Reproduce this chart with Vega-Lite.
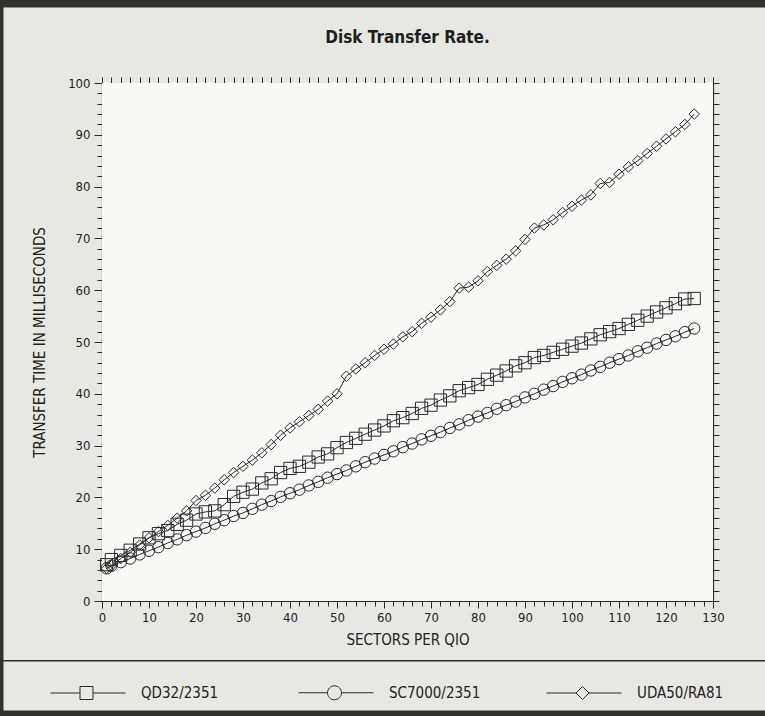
{
  "$schema": "https://vega.github.io/schema/vega-lite/v6.json",
  "autosize": "none",
  "width": 611,
  "height": 518,
  "padding": {"left": 102, "top": 83, "right": 52, "bottom": 115},
  "background": "#e8e8e3",
  "title": {"text": "Disk Transfer Rate.", "font": "DejaVu Sans Condensed, DejaVu Sans, sans-serif", "fontSize": 17, "fontWeight": "bold", "color": "#1e1e1e", "anchor": "middle", "offset": 0, "dy": 44},
  "datasets": {
    "t": [
      {"s":"QD32/2351","x":1,"y":7.0},{"s":"QD32/2351","x":2,"y":8.0},{"s":"QD32/2351","x":4,"y":8.8},{"s":"QD32/2351","x":6,"y":9.8},{"s":"QD32/2351","x":8,"y":11.0},{"s":"QD32/2351","x":10,"y":12.2},{"s":"QD32/2351","x":12,"y":13.0},{"s":"QD32/2351","x":14,"y":13.6},{"s":"QD32/2351","x":16,"y":14.8},{"s":"QD32/2351","x":18,"y":15.6},{"s":"QD32/2351","x":20,"y":16.8},{"s":"QD32/2351","x":22,"y":17.2},{"s":"QD32/2351","x":24,"y":17.4},{"s":"QD32/2351","x":26,"y":18.6},{"s":"QD32/2351","x":28,"y":20.2},{"s":"QD32/2351","x":30,"y":21.0},{"s":"QD32/2351","x":32,"y":21.6},{"s":"QD32/2351","x":34,"y":22.8},{"s":"QD32/2351","x":36,"y":23.6},{"s":"QD32/2351","x":38,"y":24.8},{"s":"QD32/2351","x":40,"y":25.6},{"s":"QD32/2351","x":42,"y":26.0},{"s":"QD32/2351","x":44,"y":26.8},{"s":"QD32/2351","x":46,"y":27.8},{"s":"QD32/2351","x":48,"y":28.4},{"s":"QD32/2351","x":50,"y":29.6},{"s":"QD32/2351","x":52,"y":30.6},{"s":"QD32/2351","x":54,"y":31.4},{"s":"QD32/2351","x":56,"y":32.2},{"s":"QD32/2351","x":58,"y":33.0},{"s":"QD32/2351","x":60,"y":33.8},{"s":"QD32/2351","x":62,"y":34.8},{"s":"QD32/2351","x":64,"y":35.4},{"s":"QD32/2351","x":66,"y":36.2},{"s":"QD32/2351","x":68,"y":37.2},{"s":"QD32/2351","x":70,"y":37.8},{"s":"QD32/2351","x":72,"y":38.8},{"s":"QD32/2351","x":74,"y":39.6},{"s":"QD32/2351","x":76,"y":40.6},{"s":"QD32/2351","x":78,"y":41.2},{"s":"QD32/2351","x":80,"y":41.8},{"s":"QD32/2351","x":82,"y":42.8},{"s":"QD32/2351","x":84,"y":43.6},{"s":"QD32/2351","x":86,"y":44.4},{"s":"QD32/2351","x":88,"y":45.4},{"s":"QD32/2351","x":90,"y":46.0},{"s":"QD32/2351","x":92,"y":47.0},{"s":"QD32/2351","x":94,"y":47.4},{"s":"QD32/2351","x":96,"y":48.0},{"s":"QD32/2351","x":98,"y":48.6},{"s":"QD32/2351","x":100,"y":49.2},{"s":"QD32/2351","x":102,"y":49.8},{"s":"QD32/2351","x":104,"y":50.6},{"s":"QD32/2351","x":106,"y":51.4},{"s":"QD32/2351","x":108,"y":52.0},{"s":"QD32/2351","x":110,"y":52.6},{"s":"QD32/2351","x":112,"y":53.4},{"s":"QD32/2351","x":114,"y":54.2},{"s":"QD32/2351","x":116,"y":55.0},{"s":"QD32/2351","x":118,"y":55.8},{"s":"QD32/2351","x":120,"y":56.6},{"s":"QD32/2351","x":122,"y":57.4},{"s":"QD32/2351","x":124,"y":58.3},{"s":"QD32/2351","x":126,"y":58.4},
      {"s":"SC7000/2351","x":1,"y":6.3},{"s":"SC7000/2351","x":2,"y":6.8},{"s":"SC7000/2351","x":4,"y":7.5},{"s":"SC7000/2351","x":6,"y":8.2},{"s":"SC7000/2351","x":8,"y":9.0},{"s":"SC7000/2351","x":10,"y":9.7},{"s":"SC7000/2351","x":12,"y":10.4},{"s":"SC7000/2351","x":14,"y":11.2},{"s":"SC7000/2351","x":16,"y":11.9},{"s":"SC7000/2351","x":18,"y":12.7},{"s":"SC7000/2351","x":20,"y":13.4},{"s":"SC7000/2351","x":22,"y":14.1},{"s":"SC7000/2351","x":24,"y":14.9},{"s":"SC7000/2351","x":26,"y":15.6},{"s":"SC7000/2351","x":28,"y":16.4},{"s":"SC7000/2351","x":30,"y":17.0},{"s":"SC7000/2351","x":32,"y":17.8},{"s":"SC7000/2351","x":34,"y":18.6},{"s":"SC7000/2351","x":36,"y":19.3},{"s":"SC7000/2351","x":38,"y":20.1},{"s":"SC7000/2351","x":40,"y":20.8},{"s":"SC7000/2351","x":42,"y":21.5},{"s":"SC7000/2351","x":44,"y":22.3},{"s":"SC7000/2351","x":46,"y":23.0},{"s":"SC7000/2351","x":48,"y":23.8},{"s":"SC7000/2351","x":50,"y":24.5},{"s":"SC7000/2351","x":52,"y":25.2},{"s":"SC7000/2351","x":54,"y":26.0},{"s":"SC7000/2351","x":56,"y":26.8},{"s":"SC7000/2351","x":58,"y":27.5},{"s":"SC7000/2351","x":60,"y":28.2},{"s":"SC7000/2351","x":62,"y":28.9},{"s":"SC7000/2351","x":64,"y":29.7},{"s":"SC7000/2351","x":66,"y":30.4},{"s":"SC7000/2351","x":68,"y":31.2},{"s":"SC7000/2351","x":70,"y":31.9},{"s":"SC7000/2351","x":72,"y":32.6},{"s":"SC7000/2351","x":74,"y":33.4},{"s":"SC7000/2351","x":76,"y":34.1},{"s":"SC7000/2351","x":78,"y":34.9},{"s":"SC7000/2351","x":80,"y":35.6},{"s":"SC7000/2351","x":82,"y":36.3},{"s":"SC7000/2351","x":84,"y":37.1},{"s":"SC7000/2351","x":86,"y":37.8},{"s":"SC7000/2351","x":88,"y":38.5},{"s":"SC7000/2351","x":90,"y":39.3},{"s":"SC7000/2351","x":92,"y":40.0},{"s":"SC7000/2351","x":94,"y":40.8},{"s":"SC7000/2351","x":96,"y":41.5},{"s":"SC7000/2351","x":98,"y":42.3},{"s":"SC7000/2351","x":100,"y":43.0},{"s":"SC7000/2351","x":102,"y":43.7},{"s":"SC7000/2351","x":104,"y":44.5},{"s":"SC7000/2351","x":106,"y":45.2},{"s":"SC7000/2351","x":108,"y":46.0},{"s":"SC7000/2351","x":110,"y":46.7},{"s":"SC7000/2351","x":112,"y":47.4},{"s":"SC7000/2351","x":114,"y":48.2},{"s":"SC7000/2351","x":116,"y":48.9},{"s":"SC7000/2351","x":118,"y":49.7},{"s":"SC7000/2351","x":120,"y":50.4},{"s":"SC7000/2351","x":122,"y":51.1},{"s":"SC7000/2351","x":124,"y":51.9},{"s":"SC7000/2351","x":126,"y":52.6},
      {"s":"UDA50/RA81","x":1,"y":6.3},{"s":"UDA50/RA81","x":2,"y":6.8},{"s":"UDA50/RA81","x":4,"y":8.2},{"s":"UDA50/RA81","x":6,"y":9.4},{"s":"UDA50/RA81","x":8,"y":10.8},{"s":"UDA50/RA81","x":10,"y":12.2},{"s":"UDA50/RA81","x":12,"y":13.4},{"s":"UDA50/RA81","x":14,"y":14.6},{"s":"UDA50/RA81","x":16,"y":16.0},{"s":"UDA50/RA81","x":18,"y":17.4},{"s":"UDA50/RA81","x":20,"y":19.4},{"s":"UDA50/RA81","x":22,"y":20.4},{"s":"UDA50/RA81","x":24,"y":21.8},{"s":"UDA50/RA81","x":26,"y":23.4},{"s":"UDA50/RA81","x":28,"y":24.8},{"s":"UDA50/RA81","x":30,"y":26.0},{"s":"UDA50/RA81","x":32,"y":27.2},{"s":"UDA50/RA81","x":34,"y":28.6},{"s":"UDA50/RA81","x":36,"y":30.2},{"s":"UDA50/RA81","x":38,"y":32.0},{"s":"UDA50/RA81","x":40,"y":33.4},{"s":"UDA50/RA81","x":42,"y":34.6},{"s":"UDA50/RA81","x":44,"y":35.8},{"s":"UDA50/RA81","x":46,"y":37.0},{"s":"UDA50/RA81","x":48,"y":38.6},{"s":"UDA50/RA81","x":50,"y":40.0},{"s":"UDA50/RA81","x":52,"y":43.4},{"s":"UDA50/RA81","x":54,"y":44.8},{"s":"UDA50/RA81","x":56,"y":46.0},{"s":"UDA50/RA81","x":58,"y":47.4},{"s":"UDA50/RA81","x":60,"y":48.6},{"s":"UDA50/RA81","x":62,"y":49.6},{"s":"UDA50/RA81","x":64,"y":51.0},{"s":"UDA50/RA81","x":66,"y":52.0},{"s":"UDA50/RA81","x":68,"y":53.6},{"s":"UDA50/RA81","x":70,"y":54.8},{"s":"UDA50/RA81","x":72,"y":56.2},{"s":"UDA50/RA81","x":74,"y":57.8},{"s":"UDA50/RA81","x":76,"y":60.4},{"s":"UDA50/RA81","x":78,"y":60.6},{"s":"UDA50/RA81","x":80,"y":61.8},{"s":"UDA50/RA81","x":82,"y":63.6},{"s":"UDA50/RA81","x":84,"y":64.8},{"s":"UDA50/RA81","x":86,"y":66.0},{"s":"UDA50/RA81","x":88,"y":67.6},{"s":"UDA50/RA81","x":90,"y":69.8},{"s":"UDA50/RA81","x":92,"y":72.0},{"s":"UDA50/RA81","x":94,"y":72.6},{"s":"UDA50/RA81","x":96,"y":73.6},{"s":"UDA50/RA81","x":98,"y":75.0},{"s":"UDA50/RA81","x":100,"y":76.2},{"s":"UDA50/RA81","x":102,"y":77.4},{"s":"UDA50/RA81","x":104,"y":78.4},{"s":"UDA50/RA81","x":106,"y":80.6},{"s":"UDA50/RA81","x":108,"y":80.8},{"s":"UDA50/RA81","x":110,"y":82.4},{"s":"UDA50/RA81","x":112,"y":83.8},{"s":"UDA50/RA81","x":114,"y":85.0},{"s":"UDA50/RA81","x":116,"y":86.4},{"s":"UDA50/RA81","x":118,"y":87.8},{"s":"UDA50/RA81","x":120,"y":89.2},{"s":"UDA50/RA81","x":122,"y":90.6},{"s":"UDA50/RA81","x":124,"y":92.0},{"s":"UDA50/RA81","x":126,"y":94.0}
    ]
  },
  "data": {"name": "t"},
  "layer": [
    {
      "data": {"values": [{}]},
      "mark": {"type": "rect", "fill": "#f8f8f4"},
      "encoding": {
        "x": {"datum": 0, "type": "quantitative", "scale": {"domain": [0, 130], "nice": false, "zero": false},
          "axis": {"orient": "top", "values": [0,2,4,6,8,10,12,14,16,18,20,22,24,26,28,30,32,34,36,38,40,42,44,46,48,50,52,54,56,58,60,62,64,66,68,70,72,74,76,78,80,82,84,86,88,90,92,94,96,98,100,102,104,106,108,110,112,114,116,118,120,122,124,126,128,130], "labels": false, "title": null, "tickSize": 6}},
        "x2": {"datum": 130},
        "y": {"datum": 0, "type": "quantitative", "scale": {"domain": [0, 100], "nice": false, "zero": false},
          "axis": {"orient": "right", "values": [0,2,4,6,8,10,12,14,16,18,20,22,24,26,28,30,32,34,36,38,40,42,44,46,48,50,52,54,56,58,60,62,64,66,68,70,72,74,76,78,80,82,84,86,88,90,92,94,96,98,100], "labels": false, "title": null, "tickSize": 6}},
        "y2": {"datum": 100}
      }
    },
    {
      "mark": {"type": "line", "color": "#2a2a2a", "strokeWidth": 1},
      "encoding": {
        "x": {"field": "x", "type": "quantitative",
          "axis": {"orient": "bottom", "values": [0,2,4,6,8,10,12,14,16,18,20,22,24,26,28,30,32,34,36,38,40,42,44,46,48,50,52,54,56,58,60,62,64,66,68,70,72,74,76,78,80,82,84,86,88,90,92,94,96,98,100,102,104,106,108,110,112,114,116,118,120,122,124,126,128,130], "labelExpr": "datum.value % 10 === 0 ? datum.label : ''", "tickSize": {"condition": {"test": "datum.value % 10 === 0", "value": 7}, "value": 5}, "title": "SECTORS PER QIO", "labelPadding": 3, "titlePadding": 8, "labelFlush": false, "labelOverlap": false}},
        "y": {"field": "y", "type": "quantitative",
          "axis": {"orient": "left", "values": [0,2,4,6,8,10,12,14,16,18,20,22,24,26,28,30,32,34,36,38,40,42,44,46,48,50,52,54,56,58,60,62,64,66,68,70,72,74,76,78,80,82,84,86,88,90,92,94,96,98,100], "labelExpr": "datum.value % 10 === 0 ? datum.label : ''", "tickSize": {"condition": {"test": "datum.value % 10 === 0", "value": 8}, "value": 5}, "title": "TRANSFER TIME IN MILLISECONDS", "labelPadding": 4, "titlePadding": 20, "labelOverlap": false}},
        "detail": {"field": "s"}
      }
    },
    {
      "mark": {"type": "point", "filled": false, "stroke": "#2a2a2a", "strokeWidth": 1, "opacity": 1},
      "encoding": {
        "x": {"field": "x", "type": "quantitative",
          "axis": {"orient": "bottom", "values": [0,10,20,30,40,50,60,70,80,90,100,110,120,130], "labels": false, "domain": false, "title": null, "tickSize": -7}},
        "y": {"field": "y", "type": "quantitative",
          "axis": {"orient": "left", "values": [0,10,20,30,40,50,60,70,80,90,100], "labels": false, "domain": false, "title": null, "tickSize": -7}},
        "shape": {"field": "s", "type": "nominal", "scale": {"domain": ["QD32/2351", "SC7000/2351", "UDA50/RA81"], "range": ["square", "circle", "diamond"]}, "legend": null},
        "size": {"field": "s", "type": "nominal", "scale": {"domain": ["QD32/2351", "SC7000/2351", "UDA50/RA81"], "range": [150, 110, 115]}, "legend": null}
      }
    },
    {
      "transform": [{"filter": "false"}],
      "mark": {"type": "point", "filled": false, "strokeWidth": 1, "opacity": 1},
      "encoding": {
        "x": {"field": "x", "type": "quantitative",
          "axis": {"orient": "top", "values": [0,10,20,30,40,50,60,70,80,90,100,110,120,130], "labels": false, "domain": false, "title": null, "tickSize": -7}},
        "y": {"field": "y", "type": "quantitative",
          "axis": {"orient": "right", "values": [0,10,20,30,40,50,60,70,80,90,100], "labels": false, "domain": false, "title": null, "tickSize": -7}},
        "fill": {"datum": 1, "type": "quantitative",
          "scale": {"domain": [0, 2], "range": ["rgba(0,0,0,0)", "rgba(0,0,0,0)"]},
          "legend": {"type": "gradient", "orient": "none", "legendX": -103, "legendY": -80, "direction": "horizontal", "gradientLength": 873, "gradientThickness": 712, "gradientStrokeWidth": 9, "gradientStrokeColor": "#33322f", "title": null, "labelExpr": "''", "labelFontSize": 1, "padding": 0}},
        "stroke": {"datum": 5, "type": "quantitative",
          "scale": {"domain": [4, 6], "range": ["#2e2e2c", "#2e2e2c"]},
          "legend": {"type": "gradient", "orient": "none", "legendX": -104, "legendY": 577, "direction": "horizontal", "gradientLength": 875, "gradientThickness": 1.6, "gradientStrokeWidth": 0, "title": null, "labelExpr": "''", "labelFontSize": 1, "padding": 0}}
      }
    },
    {
      "transform": [{"filter": "false"}],
      "mark": {"type": "point", "filled": false, "stroke": "#2a2a2a", "strokeWidth": 1, "opacity": 1},
      "encoding": {
        "x": {"field": "x", "type": "quantitative", "axis": null},
        "y": {"field": "y", "type": "quantitative", "axis": null},
        "shape": {"field": "s", "type": "nominal",
          "scale": {"domain": ["QD32/2351", "SC7000/2351", "UDA50/RA81"], "range": ["M-1,0H1.95M1.95,-0.65H3.25V0.65H1.95ZM3.25,0H6.5", "M-1,0H1.9A0.7,0.7,0,1,1,3.3,0A0.7,0.7,0,1,1,1.9,0M3.3,0H6.5", "M-1,0H1.95L2.6,-0.65L3.25,0L2.6,0.65L1.95,0M3.25,0H6.5"]},
          "legend": {"orient": "none", "legendX": -52, "legendY": 599, "direction": "horizontal", "columns": 3, "gridAlign": "all", "columnPadding": 63, "title": null, "symbolSize": 400, "symbolStrokeColor": "#2a2a2a", "symbolStrokeWidth": 1, "symbolOpacity": 1, "labelOffset": 70, "labelFontSize": 15, "labelFont": "DejaVu Sans Condensed, DejaVu Sans, sans-serif", "labelColor": "#222", "padding": 0}}
      }
    }
  ],
  "resolve": {
    "axis": {"x": "independent", "y": "independent"},
    "scale": {"shape": "independent", "size": "independent"}
  },
  "config": {
    "view": {"stroke": null},
    "axis": {"grid": false, "domainColor": "#2a2a2a", "domainWidth": 1.2, "tickColor": "#2a2a2a", "tickWidth": 1, "labelColor": "#222", "titleColor": "#222", "labelFont": "DejaVu Sans Condensed, DejaVu Sans, sans-serif", "titleFont": "DejaVu Sans Condensed, DejaVu Sans, sans-serif", "labelFontSize": 13, "titleFontSize": 15, "titleFontWeight": "normal", "zindex": 1}
  }
}
